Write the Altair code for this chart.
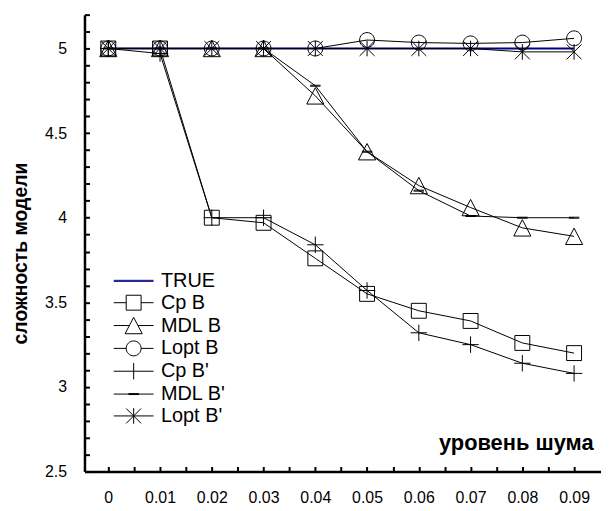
import altair as alt
import pandas as pd

noise = [0.0, 0.01, 0.02, 0.03, 0.04, 0.05, 0.06, 0.07, 0.08, 0.09]
series_names = ["TRUE", "Cp B", "MDL B", "Lopt B", "Cp B'", "MDL B'", "Lopt B'"]
true_vals = [5.0, 5.0, 5.0, 5.0, 5.0, 5.0, 5.0, 5.0, 5.0, 5.0]
cp_b = [5.0, 5.0, 4.0, 3.97, 3.76, 3.55, 3.45, 3.39, 3.26, 3.20]
mdl_b = [5.0, 5.0, 5.0, 5.0, 4.72, 4.39, 4.19, 4.06, 3.94, 3.89]
lopt_b = [5.0, 5.0, 5.0, 5.0, 5.0, 5.05, 5.035, 5.03, 5.035, 5.06]
cp_b2 = [5.0, 4.97, 4.0, 4.0, 3.84, 3.57, 3.32, 3.25, 3.14, 3.08]
mdl_b2 = [5.0, 5.0, 5.0, 5.0, 4.78, 4.39, 4.16, 4.01, 4.0, 4.0]
lopt_b2 = [5.0, 5.0, 5.0, 5.0, 5.0, 5.0, 5.0, 5.0, 4.98, 4.98]

all_vals = [true_vals, cp_b, mdl_b, lopt_b, cp_b2, mdl_b2, lopt_b2]
rows = []
for name, vals in zip(series_names, all_vals):
    for xv, yv in zip(noise, vals):
        rows.append({"series": name, "noise": xv, "value": yv})
df = pd.DataFrame(rows)

FONT = "Liberation Sans"
W, H = 520, 460

xs = alt.Scale(domain=[-0.0046, 0.0952], nice=False, zero=False)
ys = alt.Scale(domain=[2.5, 5.2], nice=False, zero=False)

# minor tick positions (every 0.005 on x, every 0.1 on y)
x_tick_vals = [round(i * 0.005, 3) for i in range(19)]
y_tick_vals = [round(2.5 + i * 0.1, 1) for i in range(28)]

marker_series = series_names[1:]
marker_shapes = [
    "M-1,-1H1V1H-1Z",
    "M0,-1.1L1.15,1.1L-1.15,1.1Z",
    "M-1,0A1,1 0 1,0 1,0A1,1 0 1,0 -1,0",
    "M0,-1.1V1.1M-1.1,0H1.1",
    "M-0.7,-0.066H0.7M-0.7,0.066H0.7",
    "M0,-1.05V1.05M-1,-1L1,1M-1,1L1,-1",
]
L = 2.67
legend_shapes = [
    f"M-{L},-0.07H{L}M-{L},0.07H{L}",
    f"M-{L},0H-1M1,0H{L}M-1,-1H1V1H-1Z",
    f"M-{L},0H-0.6M0.6,0H{L}M0,-1.1L1.15,1.1L-1.15,1.1Z",
    f"M-{L},0H-1M1,0H{L}M-1,0A1,1 0 1,0 1,0A1,1 0 1,0 -1,0",
    f"M-{L},0H{L}M0,-1.1V1.1",
    f"M-{L},0H{L}M-0.7,-0.066H0.7M-0.7,0.066H0.7",
    f"M-{L},0H{L}M0,-1.05V1.05M-1,-1L1,1M-1,1L1,-1",
]
legend_colors = ["#000080", "black", "black", "black", "black", "black", "black"]

main_x_axis = alt.Axis(
    values=x_tick_vals,
    labelExpr="abs(round(datum.value*100) - datum.value*100) < 0.01 ? format(datum.value, '~g') : ''",
    ticks=False, tickSize=0,
    grid=True, gridColor="black", gridWidth=2, gridDash=[0, H - 5, 5, 100], gridOpacity=1,
    domainColor="black", domainWidth=2.5, labelFont=FONT, labelFontSize=16,
    labelColor="black", labelPadding=18, labelFlush=False, labelOverlap=False,
    title="уровень шума", titleFont=FONT, titleFontSize=22, titleFontWeight="bold",
    titleColor="black", titleX=512, titleY=-29, titleAlign="right",
    titleBaseline="middle", titleAnchor="end",
)
main_y_axis = alt.Axis(
    values=y_tick_vals,
    labelExpr="abs(round(datum.value*2) - datum.value*2) < 0.01 ? format(datum.value, '~g') : ''",
    ticks=False, tickSize=0,
    grid=True, gridColor="black", gridWidth=2, gridDash=[5, 2000], gridOpacity=1,
    domainColor="black", domainWidth=2.5,
    labelFont=FONT, labelFontSize=16, labelColor="black", labelPadding=18,
    labelFlush=False, labelOverlap=False,
    title="сложность модели", titleFont=FONT, titleFontSize=19.5,
    titleFontWeight="bold", titleColor="black", titleX=-64, titleY=240,
    titleAngle=270, titleAlign="center", titleBaseline="middle",
)

true_df = df[df.series == "TRUE"]
other_df = df[df.series != "TRUE"]

true_line = alt.Chart(true_df).mark_line(color="#000080", strokeWidth=2).encode(
    x=alt.X("noise:Q", scale=xs, axis=main_x_axis),
    y=alt.Y("value:Q", scale=ys, axis=main_y_axis),
)

lines = alt.Chart(other_df).mark_line(color="black", strokeWidth=1).encode(
    x=alt.X("noise:Q", scale=xs, axis=None),
    y=alt.Y("value:Q", scale=ys, axis=None),
    detail="series:N",
)

points = alt.Chart(other_df).mark_point(
    filled=False, color="black", strokeWidth=1, size=225, opacity=1
).encode(
    x=alt.X("noise:Q", scale=xs, axis=None),
    y=alt.Y("value:Q", scale=ys, axis=None),
    shape=alt.Shape("series:N", scale=alt.Scale(domain=marker_series, range=marker_shapes), legend=None),
)

leg = dict(orient="none", legendX=39.5, legendY=258, padding=0, rowPadding=2,
           labelFont=FONT, labelFontSize=20, labelColor="black", labelOffset=17.5,
           symbolStrokeWidth=1, symbolSize=225, title=None)

legend_layer = alt.Chart(df).transform_filter("false").mark_point(
    filled=False, strokeWidth=1, size=225, opacity=1
).encode(
    x=alt.X("noise:Q", scale=xs, axis=None),
    y=alt.Y("value:Q", scale=ys, axis=None),
    shape=alt.Shape("series:N", scale=alt.Scale(domain=series_names, range=legend_shapes),
                    title=None, legend=alt.Legend(**leg)),
    color=alt.Color("series:N", scale=alt.Scale(domain=series_names, range=legend_colors),
                    title=None, legend=alt.Legend(**leg)),
)

chart = alt.layer(true_line, lines, points, legend_layer).resolve_scale(
    shape="independent", color="independent"
).resolve_axis(x="independent", y="independent").properties(
    width=W, height=H,
    autosize=alt.AutoSizeParams(type="none"),
    padding={"left": 77, "top": 5, "right": 0, "bottom": 34},
    background="white",
).configure_view(stroke=None)

chart.save("out.html", embed_options={"renderer": "svg", "actions": False})
